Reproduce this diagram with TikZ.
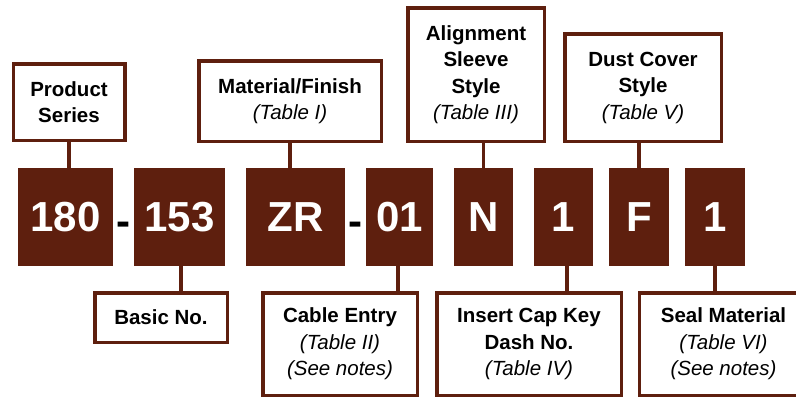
\documentclass[tikz,border=0pt]{standalone}
\usepackage{fontspec}
\setmainfont{Liberation Sans}
\usepackage{tikz}
\usetikzlibrary{positioning,calc}

\definecolor{brn}{RGB}{94,31,14}
\tikzset{
	code/.style={fill=brn, text=white, inner sep=0pt, minimum height=98pt,
		font=\bfseries\fontsize{42}{42}\selectfont},
	lbl/.style={draw=brn, line width=3.5pt, fill=white, align=center, inner sep=0pt,
		font=\bfseries\fontsize{20.5}{26.5}\selectfont},
	con/.style={draw=brn, line width=3.8pt},
	hyph/.style={inner sep=0pt, font=\bfseries\fontsize{42}{42}\selectfont}
}

\begin{document}
\begin{tikzpicture}[x=1pt, y=-1pt]
	\useasboundingbox (0,0) rectangle (796,399);
	% part number boxes
	\foreach \n/\t/\x/\w in {c1/180/65.5/95, c2/153/179.5/91, c3/ZR/295.5/99, c4/01/399.5/67,
		c5/N/483.5/59, c6/1/563.5/59, c7/F/639/60, c8/1/715/60}
	\node[code, minimum width=\w pt] (\n) at (\x,217) {\t};
	\node[hyph] (d1) at ($(c1.east)!0.5!(c2.west)+(0,12)$) {-};
	\node[hyph] (d2) at ($(c3.east)!0.5!(c4.west)+(0,12)$) {-};

	% labels above
	\node[lbl, minimum width=111.5pt, minimum height=76.5pt] (ser) at (69,102) {Product\\Series};
	\node[lbl, minimum width=182.5pt, minimum height=80.5pt] (mat) at (290,101) {Material/Finish\\\textmd{\itshape(Table I)}};
	\node[lbl, minimum width=136.5pt, minimum height=133.5pt] (aln) at (476,74.5) {Alignment\\Sleeve\\Style\\\textmd{\itshape(Table III)}};
	\node[lbl, minimum width=156.5pt, minimum height=107.5pt] (dst) at (643,87.5) {Dust Cover\\Style\\\textmd{\itshape(Table V)}};

	% labels below
	\node[lbl, minimum width=132.5pt, minimum height=49.5pt] (bas) at (161,317.5) {Basic No.};
	\node[lbl, minimum width=154.5pt, minimum height=102.5pt] (cab) at (340,344) {Cable Entry\\\textmd{\itshape(Table II)}\\\textmd{\itshape(See notes)}};
	\node[lbl, minimum width=184.5pt, minimum height=102.5pt] (ins) at (529,344) {Insert Cap Key\\Dash No.\\\textmd{\itshape(Table IV)}};
	\node[lbl, minimum width=168pt, minimum height=102.5pt] (sea) at (723.5,344) {Seal Material\\\textmd{\itshape(Table VI)}\\\textmd{\itshape(See notes)}};

	% connectors
	\draw[con] (ser.south) -- (ser.south |- c1.north);
	\draw[con] (mat.south) -- (mat.south |- c3.north);
	\draw[con] (c5.north) -- (c5.north |- aln.south);
	\draw[con] (c7.north) -- (c7.north |- dst.south);
	\draw[con] (c2.south) ++(1.5,0) coordinate (b2) -- (b2 |- bas.north);
	\draw[con] (c4.south) ++(-1.5,0) coordinate (b4) -- (b4 |- cab.north);
	\draw[con] (c6.south) ++(3.5,0) coordinate (b6) -- (b6 |- ins.north);
	\draw[con] (c8.south) -- (c8.south |- sea.north);
\end{tikzpicture}
\end{document}
